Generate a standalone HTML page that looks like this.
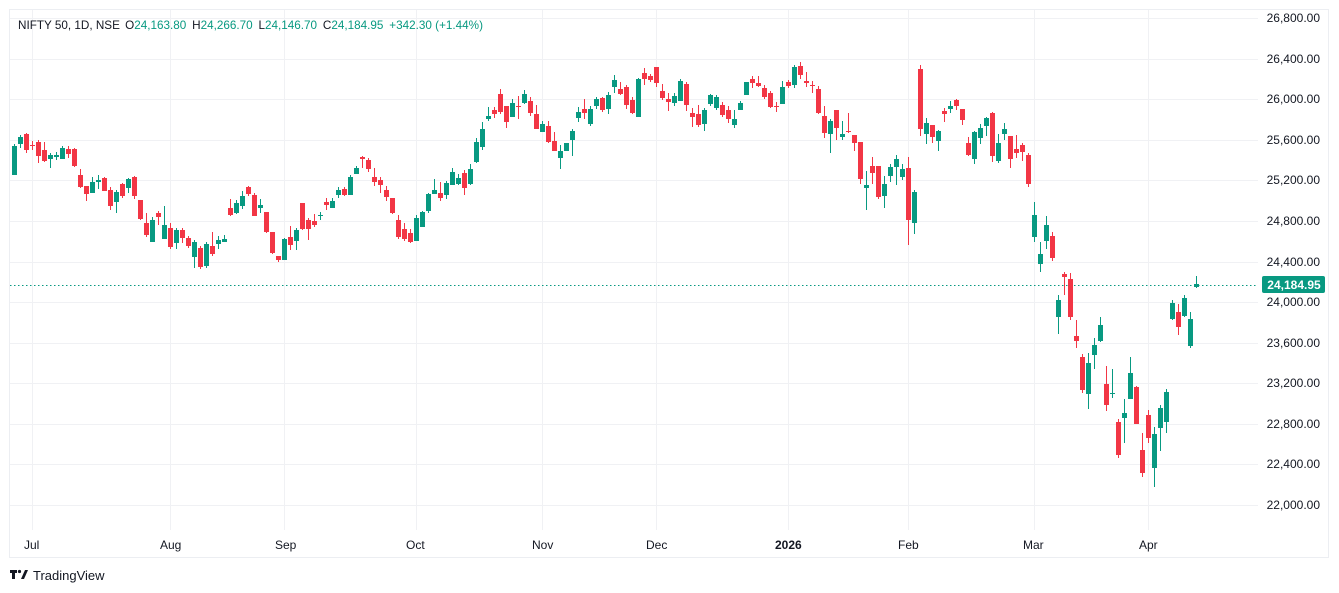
<!DOCTYPE html>
<html><head><meta charset="utf-8"><style>
html,body{margin:0;padding:0;background:#fff;width:1339px;height:593px;overflow:hidden;font-family:"Liberation Sans",sans-serif;}
svg{position:absolute;left:0;top:0;}
</style></head><body>
<svg id="s" width="1339" height="593" xmlns="http://www.w3.org/2000/svg">
<rect x="9.5" y="9.5" width="1319" height="548" fill="#fff" stroke="#eceef2"/>
<g id="grid" stroke="#f0f1f4" stroke-width="1"></g>
<line x1="10" y1="285.5" x2="1258" y2="285.5" stroke="#089981" stroke-dasharray="1.5,2.5"/>
<g id="c"></g>
<g font-size="12" fill="#131722" id="ax"></g>
<rect x="1262" y="276" width="63" height="17" rx="2" fill="#089981"/>
<text x="1294" y="289" font-size="12" fill="#fff" text-anchor="middle" font-weight="bold">24,184.95</text>
<text x="18" y="29" font-size="12" fill="#131722" textLength="465" lengthAdjust="spacingAndGlyphs">NIFTY 50, 1D, NSE <tspan dx="2">O</tspan><tspan fill="#089981">24,163.80</tspan><tspan dx="6">H</tspan><tspan fill="#089981">24,266.70</tspan><tspan dx="6">L</tspan><tspan fill="#089981">24,146.70</tspan><tspan dx="6">C</tspan><tspan fill="#089981">24,184.95</tspan><tspan dx="6" fill="#089981">+342.30 (+1.44%)</tspan></text>
<g font-size="12" fill="#131722">
<text x="24" y="549">Jul</text><text x="160" y="549">Aug</text><text x="275" y="549">Sep</text><text x="406" y="549">Oct</text><text x="532" y="549">Nov</text><text x="646" y="549">Dec</text><text x="775" y="549" font-weight="bold">2026</text><text x="898" y="549">Feb</text><text x="1023" y="549">Mar</text><text x="1139" y="549">Apr</text>
</g>
<g fill="#131722"><rect x="10" y="570" width="7" height="3"/><rect x="12" y="570" width="3" height="9"/><circle cx="19.5" cy="571.5" r="1.6"/><path d="M21 579 L25 570 L28 570 L24 579Z"/></g>
<text x="33" y="580" font-size="13" fill="#131722">TradingView</text>
</svg>
<script>
var d=[
['G',146,175,144,175],['G',137,144,135,148],['R',134,150,133,153],['R',145,146,141,150],['R',142,156,140,163],['R',150,161,142,162],['G',155,159,153,168],['G',155,157,152,160],['G',148,159,146,159],['R',149,154,146,158],
['R',149,166,148,167],['R',175,187,169,188],['R',186,194,186,201],['G',182,193,177,193],['G',180,182,175,189],['R',178,191,177,191],['R',190,206,187,210],['G',192,202,190,213],['R',184,196,183,198],['G',179,188,178,193],
['R',177,196,176,199],['R',200,219,200,220],['R',223,235,213,237],['G',220,242,217,242],['R',213,217,211,225],['G',225,239,206,239],['R',228,247,223,249],['G',230,243,228,249],['R',230,238,228,243],['R',238,246,236,248],
['G',242,257,240,268],['R',248,267,246,269],['G',244,266,242,268],['R',246,254,232,256],['G',240,244,236,249],['G',239,242,235,242],['R',208,215,199,216],['G',203,213,200,214],['G',196,206,191,209],['R',187,194,186,196],
['R',195,216,193,216],['G',205,208,199,213],['R',212,232,212,233],['R',232,253,232,254],['R',256,260,256,262],['G',239,260,238,260],['R',237,245,226,250],['G',230,241,228,250],['R',203,229,203,230],['R',220,229,218,240],
['R',221,225,214,227],['G',215,216,212,220],['R',202,205,198,210],['G',201,208,198,208],['G',190,195,187,198],['R',189,195,187,196],['G',177,195,175,195],['G',168,174,166,174],['R',157,159,156,168],['R',160,169,158,172],
['R',177,182,168,186],['R',180,185,177,193],['R',190,197,186,201],['R',198,213,198,214],['R',220,237,215,239],['R',229,239,223,241],['R',233,242,229,243],['G',218,241,215,241],['G',212,227,211,227],['G',194,211,193,213],
['G',190,194,179,194],['R',193,198,182,201],['G',183,195,181,199],['G',172,185,168,185],['G',178,184,174,185],['R',173,188,170,195],['G',169,184,164,185],['G',142,162,138,163],['G',129,147,122,150],['G',116,119,107,121],
['R',110,114,107,118],['R',94,112,89,114],['R',106,122,106,128],['G',103,117,99,117],['R',106,107,96,119],['G',94,103,90,104],['R',101,113,97,116],['R',114,129,105,129],['G',124,132,121,132],['R',126,142,121,143],
['R',141,151,132,151],['G',151,158,145,169],['G',143,151,143,151],['G',131,140,129,156],['G',112,118,107,122],['R',109,113,99,119],['G',109,124,106,126],['G',99,106,97,109],['R',98,110,97,112],['G',95,109,92,114],
['G',80,87,75,93],['R',89,94,82,95],['R',87,105,85,109],['R',100,113,97,114],['G',79,117,78,117],['R',73,79,68,85],['R',76,80,74,82],['R',67,83,67,87],['R',91,98,84,100],['R',99,102,93,111],
['G',96,103,93,106],['G',81,101,79,101],['R',84,105,82,111],['R',113,117,108,127],['R',114,125,105,127],['G',110,124,108,131],['G',95,104,94,106],['G',97,108,95,110],['R',105,115,102,117],['R',110,119,106,123],
['G',119,125,110,128],['G',103,110,101,110],['G',82,95,82,95],['R',79,83,76,88],['R',83,86,76,87],['R',88,97,85,99],['R',93,107,91,108],['R',106,107,102,112],['G',87,104,81,104],['R',82,86,80,88],
['G',67,85,65,88],['R',66,75,62,79],['R',81,83,72,87],['R',85,86,81,93],['R',89,113,86,114],['R',116,133,106,138],['G',121,134,119,153],['R',110,128,110,140],['G',134,137,121,140],['R',131,132,113,133],
['R',135,143,135,151],['R',142,179,142,184],['G',185,188,171,210],['R',166,173,157,184],['R',166,197,166,199],['G',184,196,176,208],['G',167,176,164,182],['G',159,167,155,185],['G',169,177,164,180],['R',168,220,157,245],
['G',192,223,190,234],['R',69,129,65,136],['G',123,134,118,144],['R',125,137,125,143],['G',131,141,130,151],['R',111,114,108,122],['G',106,109,101,113],['R',100,106,99,110],['R',109,120,109,125],['R',143,155,137,156],
['G',132,159,131,164],['G',128,138,124,144],['G',118,126,117,136],['R',113,156,112,162],['G',143,161,134,163],['G',129,134,123,140],['R',136,159,136,168],['R',149,153,135,158],['R',145,152,143,161],['R',155,184,153,187],
['G',215,237,202,242],['G',254,264,242,272],['G',225,241,216,249],['R',236,258,232,261],['G',300,317,295,334],['R',274,277,272,295],['R',279,317,273,320],['R',336,341,320,348],['R',357,390,354,393],['G',363,394,353,409],
['G',345,355,338,369],['G',325,341,317,342],['R',384,405,366,411],['G',393,394,369,398],['R',422,455,419,458],['G',413,418,399,443],['G',373,399,357,399],['R',387,424,386,424],['R',450,473,433,477],['R',415,438,410,443],
['G',434,468,427,487],['G',408,428,405,451],['G',392,422,389,433],['G',303,319,300,320],['R',312,327,304,335],['G',298,316,295,317],['G',319,346,312,348],['G',284,287,276,288]];
var c=document.getElementById('c'),h='';
d.forEach(function(k,i){var x=Math.round(14.3+6*i),col=k[0]=='G'?'#089981':'#f23645';
var bt=k[1],bb=Math.max(k[2],k[1]+1);
h+='<rect x="'+x+'" y="'+k[3]+'" width="1" height="'+(k[4]-k[3])+'" fill="'+col+'"/>';
h+='<rect x="'+(x-2)+'" y="'+bt+'" width="5" height="'+(bb-bt)+'" fill="'+col+'"/>';});
c.innerHTML=h;
var g='',a='';
for(var j=0;j<13;j++){var p=26800-400*j,y=18+(26800-p)*0.10146;var yy=Math.round(y)+0.5;
g+='<line x1="10" y1="'+yy+'" x2="1258" y2="'+yy+'"/>';
a+='<text x="1320" y="'+(Math.round(y)+4)+'" text-anchor="end">'+p.toLocaleString('en-US')+'.00</text>';}
[32,170,284,416,542,656,788,908,1034,1148].forEach(function(x){g+='<line x1="'+(x+0.5)+'" y1="10" x2="'+(x+0.5)+'" y2="530"/>';});
document.getElementById('grid').innerHTML=g;
document.getElementById('ax').innerHTML=a;
</script>
</body></html>
